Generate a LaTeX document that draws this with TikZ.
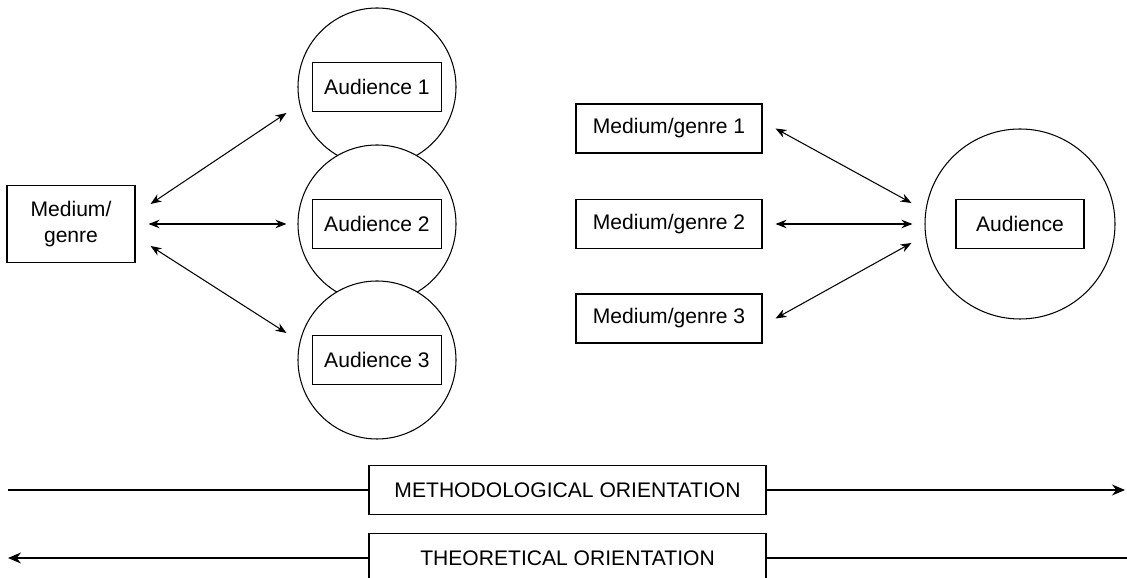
\documentclass[tikz,border=0pt]{standalone}
\usepackage{fontspec}
\setmainfont{Liberation Sans}
\usetikzlibrary{arrows.meta}

\begin{document}
\begin{tikzpicture}[line width=0.6pt,
    font=\fontsize{12}{15}\selectfont,
    box/.style = {draw, rectangle,
        minimum height=0.98cm,
        inner sep=2pt, align=center},
    aud/.style = {draw, circle,
        fill=white,
        minimum size=3.16cm},
    link/.style = {{Stealth[length=0.22cm,width=0.17cm]}-{Stealth[length=0.22cm,width=0.17cm]}},
    way/.style = {-{Stealth[length=0.26cm,width=0.22cm]}}]

\useasboundingbox (0,0) rectangle (22.54,-11.56);

% Medium/genre on the left
\node[box, minimum width=2.56cm, minimum height=1.54cm] (mg) at (1.42,-4.48) {Medium/\\genre};

% Audiences on the left
\node[aud] (c1) at (7.54,-1.74) {};
\node[box, minimum width=2.58cm] (a1) at (c1) {Audience 1};
\node[aud] (c2) at (7.54,-4.48) {};
\node[box, minimum width=2.58cm] (a2) at (c2) {Audience 2};
\node[aud] (c3) at (7.54,-7.20) {};
\node[box, minimum width=2.58cm] (a3) at (c3) {Audience 3};

% Links on the left
\draw[link] ([shift={(0.3,0.4)}]mg.east) -- ([shift={(-0.22,-0.52)}]c1.west);
\draw[link] ([xshift=0.26cm]mg.east) -- ([xshift=-0.22cm]c2.west);
\draw[link] ([shift={(0.3,-0.44)}]mg.east) -- ([shift={(-0.22,0.54)}]c3.west);

% Media/genres on the right
\node[box, minimum width=3.72cm] (r1) at (13.38,-2.57) {Medium/genre 1};
\node[box, minimum width=3.72cm] (r2) at (13.38,-4.48) {Medium/genre 2};
\node[box, minimum width=3.72cm] (r3) at (13.38,-6.37) {Medium/genre 3};

% Audience on the right
\node[aud, minimum size=3.8cm] (ca) at (20.4,-4.48) {};
\node[box, minimum width=2.56cm] (ab) at (ca) {Audience};

% Links on the right
\draw[link] ([xshift=0.26cm]r1.east) -- ([shift={(-0.26,0.42)}]ca.west);
\draw[link] ([xshift=0.26cm]r2.east) -- ([xshift=-0.24cm]ca.west);
\draw[link] ([xshift=0.26cm]r3.east) -- ([shift={(-0.26,-0.38)}]ca.west);

% Orientations
\node[box, minimum width=7.94cm] (meth) at (11.35,-9.80) {METHODOLOGICAL ORIENTATION};
\node[box, minimum width=7.94cm] (theo) at (11.35,-11.16) {THEORETICAL ORIENTATION};
\coordinate (mleft) at (0.16,-9.80);
\coordinate (mright) at (22.50,-9.80);
\coordinate (tleft) at (0.16,-11.16);
\coordinate (tright) at (22.54,-11.16);
\draw (mleft) -- (meth);
\draw[way] (meth) -- (mright);
\draw[way] (theo) -- (tleft);
\draw (theo) -- (tright);

\end{tikzpicture}
\end{document}
